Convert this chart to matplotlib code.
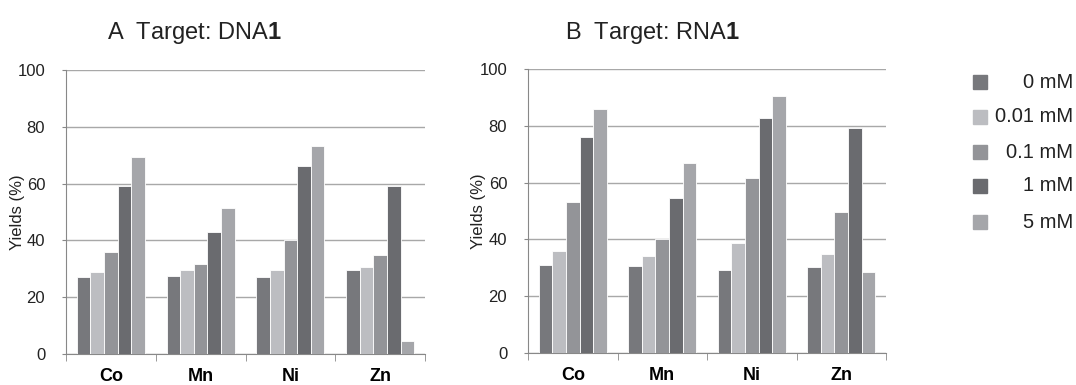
import matplotlib
matplotlib.use("Agg")
import matplotlib.pyplot as plt
import numpy as np
from matplotlib.patches import Rectangle

plt.rcParams['font.family'] = ['Liberation Sans', 'DejaVu Sans']
plt.rcParams['mathtext.fontset'] = 'custom'
plt.rcParams['mathtext.rm'] = 'Liberation Sans'
plt.rcParams['mathtext.bf'] = 'Liberation Sans:bold'

metals = ['Co', 'Mn', 'Ni', 'Zn']
conc = ['0 mM', '0.01 mM', '0.1 mM', '1 mM', '5 mM']
colors = ['#77787c', '#bcbdc1', '#939498', '#6a6b6f', '#a5a6aa']

# yields (%) per concentration, one value per metal
dna_0 = [27.0, 27.5, 27.2, 29.5]
dna_001 = [29.0, 29.5, 29.5, 30.5]
dna_01 = [36.0, 31.8, 40.0, 35.0]
dna_1 = [59.0, 43.0, 66.2, 59.3]
dna_5 = [69.5, 51.3, 73.3, 4.5]

rna_0 = [31.0, 30.6, 29.3, 30.2]
rna_001 = [36.0, 34.2, 38.6, 34.8]
rna_01 = [53.2, 40.0, 61.5, 49.6]
rna_1 = [76.2, 54.7, 82.6, 79.4]
rna_5 = [86.0, 66.8, 90.6, 28.6]

panels = [
    ("A  Target: DNA$\\mathbf{1}$", [dna_0, dna_001, dna_01, dna_1, dna_5],
     [66/1076, 31/385, 359/1076, 284/385], 107, -0.114),
    ("B  Target: RNA$\\mathbf{1}$", [rna_0, rna_001, rna_01, rna_1, rna_5],
     [528/1076, 32/385, 358/1076, 284/385], 565, -0.117),
]

fig = plt.figure(figsize=(10.76, 3.85), dpi=100)
x = np.arange(len(metals))
w = 0.152

for title, series, pos, tx, lx in panels:
    ax = fig.add_axes(pos)
    for i, vals in enumerate(series):
        ax.bar(x + (i - 2) * w, vals, w, color=colors[i], edgecolor='white',
               linewidth=0.6, zorder=3)
    ax.set_xlim(-0.5, 3.5)
    ax.set_ylim(0, 100)
    ax.set_yticks([0, 20, 40, 60, 80, 100])
    ax.yaxis.grid(True, color='#a8a8a8', linewidth=1.0, zorder=0)
    ax.set_xticks(x)
    ax.set_xticklabels(metals, fontweight='bold', fontsize=13)
    ax.tick_params(axis='x', which='major', length=0, pad=10)
    ax.set_xticks(np.arange(-0.5, 4.0, 1.0), minor=True)
    ax.tick_params(axis='x', which='minor', length=5, color='#888888',
                   direction='out')
    ax.tick_params(axis='y', length=3, color='#888888', direction='out',
                   labelsize=12, pad=12, labelcolor='#222222')
    for s in ['top', 'right']:
        ax.spines[s].set_visible(False)
    for s in ['left', 'bottom']:
        ax.spines[s].set_color('#888888')
    ax.set_ylabel('Yields (%)', fontsize=12, color='#222222')
    ax.yaxis.set_label_coords(lx, 0.5)
    fig.text(tx / 1076, 1 - 33 / 385, title, fontsize=17, va='center',
             ha='left', color='#222222')

# legend
ys = [82, 117, 152, 186, 222]
for lab, col, yy in zip(conc, colors, ys):
    fig.patches.append(Rectangle(((980 - 7) / 1076, 1 - (yy + 7) / 385),
                                 14 / 1076, 14 / 385, color=col,
                                 transform=fig.transFigure))
    fig.text(1073 / 1076, 1 - yy / 385, lab, fontsize=14.5, ha='right',
             va='center', color='#222222')

fig.savefig('out.png', dpi=100)
